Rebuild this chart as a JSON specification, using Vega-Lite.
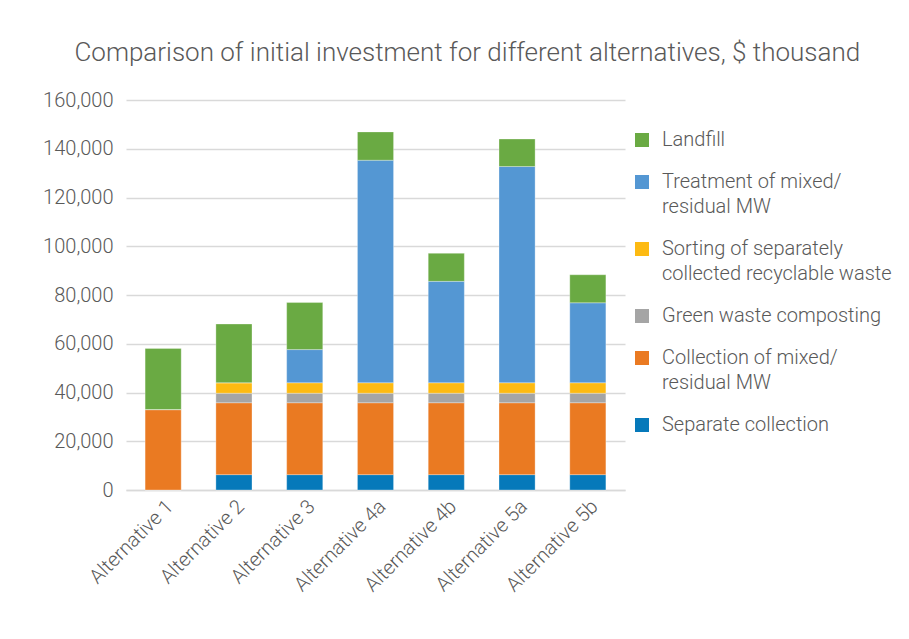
{
  "$schema": "https://vega.github.io/schema/vega-lite/v6.json",
  "width": 499,
  "height": 390,
  "padding": {"left": 42, "top": 40, "right": 10, "bottom": 10},
  "background": "white",
  "title": {
    "text": "Comparison of initial investment for different alternatives, $ thousand",
    "fontSize": 26,
    "font": "Roboto",
    "fontWeight": 300,
    "color": "#595959",
    "anchor": "middle",
    "frame": "bounds",
    "offset": 24
  },
  "data": {
    "values": [
      {"alt": "Alternative 1", "component": "Separate collection", "value": 0},
      {"alt": "Alternative 1", "component": "Collection of mixed/ residual MW", "value": 33000},
      {"alt": "Alternative 1", "component": "Green waste composting", "value": 0},
      {"alt": "Alternative 1", "component": "Sorting of separately collected recyclable waste", "value": 0},
      {"alt": "Alternative 1", "component": "Treatment of mixed/ residual MW", "value": 0},
      {"alt": "Alternative 1", "component": "Landfill", "value": 25100},
      {"alt": "Alternative 2", "component": "Separate collection", "value": 6300},
      {"alt": "Alternative 2", "component": "Collection of mixed/ residual MW", "value": 29500},
      {"alt": "Alternative 2", "component": "Green waste composting", "value": 3900},
      {"alt": "Alternative 2", "component": "Sorting of separately collected recyclable waste", "value": 4300},
      {"alt": "Alternative 2", "component": "Treatment of mixed/ residual MW", "value": 0},
      {"alt": "Alternative 2", "component": "Landfill", "value": 24100},
      {"alt": "Alternative 3", "component": "Separate collection", "value": 6300},
      {"alt": "Alternative 3", "component": "Collection of mixed/ residual MW", "value": 29500},
      {"alt": "Alternative 3", "component": "Green waste composting", "value": 3900},
      {"alt": "Alternative 3", "component": "Sorting of separately collected recyclable waste", "value": 4300},
      {"alt": "Alternative 3", "component": "Treatment of mixed/ residual MW", "value": 13600},
      {"alt": "Alternative 3", "component": "Landfill", "value": 19300},
      {"alt": "Alternative 4a", "component": "Separate collection", "value": 6300},
      {"alt": "Alternative 4a", "component": "Collection of mixed/ residual MW", "value": 29500},
      {"alt": "Alternative 4a", "component": "Green waste composting", "value": 3900},
      {"alt": "Alternative 4a", "component": "Sorting of separately collected recyclable waste", "value": 4300},
      {"alt": "Alternative 4a", "component": "Treatment of mixed/ residual MW", "value": 91300},
      {"alt": "Alternative 4a", "component": "Landfill", "value": 11600},
      {"alt": "Alternative 4b", "component": "Separate collection", "value": 6300},
      {"alt": "Alternative 4b", "component": "Collection of mixed/ residual MW", "value": 29500},
      {"alt": "Alternative 4b", "component": "Green waste composting", "value": 3900},
      {"alt": "Alternative 4b", "component": "Sorting of separately collected recyclable waste", "value": 4300},
      {"alt": "Alternative 4b", "component": "Treatment of mixed/ residual MW", "value": 41600},
      {"alt": "Alternative 4b", "component": "Landfill", "value": 11500},
      {"alt": "Alternative 5a", "component": "Separate collection", "value": 6300},
      {"alt": "Alternative 5a", "component": "Collection of mixed/ residual MW", "value": 29500},
      {"alt": "Alternative 5a", "component": "Green waste composting", "value": 3900},
      {"alt": "Alternative 5a", "component": "Sorting of separately collected recyclable waste", "value": 4300},
      {"alt": "Alternative 5a", "component": "Treatment of mixed/ residual MW", "value": 88700},
      {"alt": "Alternative 5a", "component": "Landfill", "value": 11300},
      {"alt": "Alternative 5b", "component": "Separate collection", "value": 6300},
      {"alt": "Alternative 5b", "component": "Collection of mixed/ residual MW", "value": 29500},
      {"alt": "Alternative 5b", "component": "Green waste composting", "value": 3900},
      {"alt": "Alternative 5b", "component": "Sorting of separately collected recyclable waste", "value": 4300},
      {"alt": "Alternative 5b", "component": "Treatment of mixed/ residual MW", "value": 32800},
      {"alt": "Alternative 5b", "component": "Landfill", "value": 11500}
    ]
  },
  "transform": [
    {"calculate": "indexof(['Separate collection','Collection of mixed/ residual MW','Green waste composting','Sorting of separately collected recyclable waste','Treatment of mixed/ residual MW','Landfill'], datum.component)", "as": "stackOrder"}
  ],
  "mark": {"type": "bar", "stroke": "white", "strokeWidth": 0.5, "strokeOpacity": 0.6},
  "encoding": {
    "x": {
      "field": "alt",
      "type": "nominal",
      "title": null,
      "scale": {"paddingInner": 0.49, "paddingOuter": 0.27},
      "axis": {
        "labelAngle": -45,
        "labelFontSize": 20,
        "labelFont": "Roboto",
        "labelFontWeight": 300,
        "labelColor": "#595959",
        "ticks": false,
        "domainColor": "#D9D9D9",
        "domainWidth": 1.5,
        "labelPadding": 6
      }
    },
    "y": {
      "field": "value",
      "type": "quantitative",
      "stack": "zero",
      "title": null,
      "scale": {"domain": [0, 160000]},
      "axis": {
        "values": [0, 20000, 40000, 60000, 80000, 100000, 120000, 140000, 160000],
        "format": ",d",
        "labelFontSize": 20,
        "labelFont": "Roboto",
        "labelFontWeight": 300,
        "labelColor": "#595959",
        "ticks": false,
        "domain": false,
        "gridColor": "#D9D9D9",
        "gridWidth": 1.5,
        "labelPadding": 13
      }
    },
    "color": {
      "field": "component",
      "type": "nominal",
      "title": null,
      "scale": {
        "domain": ["Landfill", "Treatment of mixed/ residual MW", "Sorting of separately collected recyclable waste", "Green waste composting", "Collection of mixed/ residual MW", "Separate collection"],
        "range": ["#6AAA43", "#5497D3", "#FDBA12", "#A5A5A5", "#EA7A22", "#0679BA"]
      },
      "legend": {
        "orient": "none",
        "legendX": 506,
        "legendY": 30,
        "symbolType": "square",
        "symbolSize": 196,
        "symbolStrokeWidth": 0,
        "labelFontSize": 20,
        "labelFont": "Roboto",
        "labelFontWeight": 300,
        "labelColor": "#595959",
        "labelLimit": 300,
        "labelBaseline": "middle",
        "labelOffset": 10,
        "rowPadding": 22,
        "labelExpr": "datum.label == 'Treatment of mixed/ residual MW' ? ['Treatment of mixed/', 'residual MW'] : datum.label == 'Sorting of separately collected recyclable waste' ? ['Sorting of separately', 'collected recyclable waste'] : datum.label == 'Collection of mixed/ residual MW' ? ['Collection of mixed/', 'residual MW'] : datum.label"
      }
    },
    "order": {"field": "stackOrder", "type": "quantitative"}
  },
  "config": {"view": {"stroke": null}, "style": {"guide-label": {"lineHeight": 25}}}
}
